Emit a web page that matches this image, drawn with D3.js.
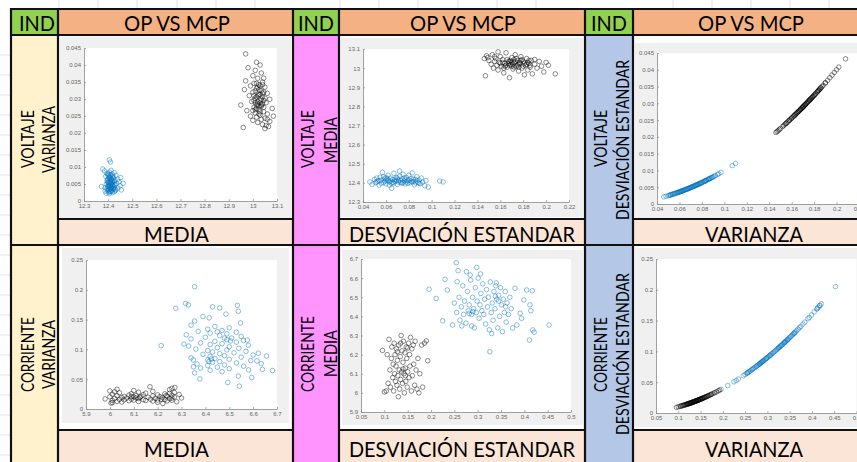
<!DOCTYPE html>
<html><head><meta charset="utf-8">
<script src="https://cdn.jsdelivr.net/npm/d3@7/dist/d3.min.js"></script>
<style>html,body{margin:0;padding:0;background:#fff;overflow:hidden}</style>
</head><body>
<svg id="c" width="857" height="462"></svg>
<script>
// ---------- DATA ----------
const voltBlueStd=[0.046,0.048,0.050,0.051,0.052,0.053,0.054,0.055,0.056,0.057,0.058,0.059,0.060,0.061,0.062,0.063,0.064,0.065,0.066,0.067,0.068,0.069,0.070,0.071,0.072,0.073,0.074,0.075,0.076,0.077,0.078,0.079,0.080,0.081,0.082,0.083,0.084,0.085,0.086,0.087,0.088,0.089,0.090,0.091,0.092,0.094,0.095,0.097,0.107,0.110,0.058,0.063,0.066,0.070,0.074,0.078,0.082,0.086,0.054,0.060,0.065,0.072,
  0.052,0.056,0.059,0.061,0.064,0.067,0.068,0.071,0.073,0.075,0.076,0.079,0.080,0.083,0.084,0.087,0.089,0.062,0.069,0.077];
const voltBlueMean=[12.405,12.392,12.418,12.401,12.425,12.410,12.388,12.430,12.415,12.455,12.402,12.420,12.395,12.412,12.440,12.405,12.425,12.398,12.418,12.450,12.408,12.428,12.392,12.415,12.435,12.402,12.420,12.445,12.410,12.395,12.428,12.412,12.440,12.400,12.422,12.452,12.408,12.390,12.418,12.432,12.402,12.415,12.395,12.425,12.405,12.385,12.412,12.378,12.410,12.405,12.432,12.388,12.403,12.425,12.398,12.405,12.410,12.400,12.412,12.428,12.372,12.462,
  12.405,12.398,12.408,12.422,12.410,12.400,12.418,12.405,12.412,12.402,12.425,12.398,12.415,12.405,12.420,12.410,12.398,12.415,12.412,12.418];
const voltBlueVar=[0.00212,0.00230,0.00250,0.00260,0.00270,0.00281,0.00292,0.00303,0.00314,0.00325,0.00336,0.00348,0.00360,0.00372,0.00384,0.00397,0.00410,0.00423,0.00436,0.00449,0.00462,0.00476,0.00490,0.00504,0.00518,0.00533,0.00548,0.00563,0.00578,0.00593,0.00608,0.00624,0.00640,0.00656,0.00672,0.00689,0.00706,0.00723,0.00740,0.00757,0.00774,0.00792,0.00810,0.00828,0.00846,0.00884,0.00903,0.00941,0.01145,0.01210,0.00336,0.00397,0.00436,0.00490,0.00548,0.00608,0.00672,0.00740,0.00292,0.00360,0.00423,0.00518,
  0.00270,0.00314,0.00348,0.00372,0.00410,0.00449,0.00462,0.00504,0.00533,0.00563,0.00578,0.00624,0.00640,0.00689,0.00706,0.00757,0.00792,0.00384,0.00476,0.00593];

const voltBlackStd=[0.147,0.148,0.149,0.150,0.152,0.153,0.154,0.155,0.156,0.157,0.158,0.159,0.160,0.161,0.162,0.163,0.164,0.165,0.166,0.167,0.168,0.169,0.170,0.171,0.172,0.173,0.174,0.175,0.176,0.177,0.178,0.179,0.180,0.181,0.182,0.183,0.184,0.185,0.186,0.187,0.188,0.190,0.192,0.194,0.196,0.198,0.200,0.202,0.208,0.166,0.168,0.170,0.172,0.174,0.160,0.163,0.176,0.178,0.180,0.184,0.158,0.146,
  0.162,0.165,0.167,0.169,0.171,0.173,0.175,0.177,0.179,0.181,0.170,0.168,0.172,0.164,0.176,0.183,0.185,0.186,0.155,0.190];
const voltBlackMean=[12.960,13.065,13.055,13.040,13.020,13.070,13.000,13.035,13.050,13.015,12.990,13.030,13.060,13.010,13.045,12.975,13.025,13.080,13.005,13.035,12.950,13.020,13.055,12.995,13.030,13.070,13.010,13.040,12.985,13.025,13.060,13.000,13.035,12.965,13.015,13.050,12.990,13.025,13.005,13.040,12.970,13.020,13.000,13.035,13.010,12.980,13.030,13.015,12.970,13.045,13.015,13.030,13.005,13.050,13.025,13.000,13.020,13.040,13.010,13.030,13.085,13.050,
  13.030,13.015,13.025,13.040,13.020,13.035,13.015,13.030,13.045,13.025,13.010,13.035,13.045,13.010,13.005,13.020,13.040,13.015,13.060,13.045];
const voltBlackVar=[0.02161,0.02190,0.02220,0.02250,0.02310,0.02341,0.02372,0.02403,0.02434,0.02465,0.02496,0.02528,0.02560,0.02592,0.02624,0.02657,0.02690,0.02723,0.02756,0.02789,0.02822,0.02856,0.02890,0.02924,0.02958,0.02993,0.03028,0.03063,0.03098,0.03133,0.03168,0.03204,0.03240,0.03276,0.03312,0.03349,0.03386,0.03423,0.03460,0.03497,0.03534,0.03610,0.03686,0.03764,0.03842,0.03920,0.04000,0.04080,0.04326,0.02756,0.02822,0.02890,0.02958,0.03028,0.02560,0.02657,0.03098,0.03168,0.03240,0.03386,0.02496,0.02132,
  0.02624,0.02723,0.02789,0.02856,0.02924,0.02993,0.03063,0.03133,0.03204,0.03276,0.02890,0.02822,0.02958,0.02690,0.03098,0.03349,0.03423,0.03460,0.02403,0.03610];

const currBlackStd=[0.096,0.100,0.104,0.106,0.108,0.110,0.112,0.113,0.115,0.116,0.118,0.119,0.120,0.121,0.122,0.123,0.124,0.125,0.126,0.127,0.128,0.129,0.130,0.131,0.132,0.133,0.134,0.135,0.136,0.137,0.138,0.139,0.140,0.141,0.142,0.143,0.144,0.145,0.146,0.147,0.148,0.149,0.150,0.152,0.153,0.154,0.155,0.156,0.158,0.159,0.160,0.162,0.163,0.165,0.166,0.168,0.170,0.172,0.174,0.176,0.180,0.186,0.190,0.193,0.182,0.128,0.140,0.150,0.135,0.145];
const currBlackMean=[6.222,6.005,6.010,6.200,6.050,6.280,6.120,6.030,6.180,6.240,6.080,6.150,6.010,6.260,6.100,6.200,6.060,6.140,6.230,6.040,6.170,6.090,5.980,6.250,6.120,6.020,6.190,6.070,6.300,6.110,6.220,6.050,6.160,6.270,6.100,6.000,6.210,6.130,6.060,6.240,6.180,6.030,6.110,6.260,6.080,6.200,6.140,6.290,6.010,6.230,6.090,6.250,6.150,6.040,6.270,6.120,6.020,6.180,6.000,6.100,6.250,6.260,6.272,6.168,6.030,6.215,6.125,6.235,6.260,6.090];
const currBlackVar=[0.00922,0.01000,0.01082,0.01124,0.01166,0.01210,0.01254,0.01277,0.01323,0.01346,0.01392,0.01416,0.01440,0.01464,0.01488,0.01513,0.01538,0.01563,0.01588,0.01613,0.01638,0.01664,0.01690,0.01716,0.01742,0.01769,0.01796,0.01823,0.01850,0.01877,0.01904,0.01932,0.01960,0.01988,0.02016,0.02045,0.02074,0.02103,0.02132,0.02161,0.02190,0.02220,0.02250,0.02310,0.02341,0.02372,0.02403,0.02434,0.02496,0.02528,0.02560,0.02624,0.02657,0.02723,0.02756,0.02822,0.02890,0.02958,0.03028,0.03098,0.03240,0.03460,0.03610,0.03725,0.03312,0.01638,0.01960,0.02250,0.01823,0.02103];

const currBlueStd=[0.254,0.298,0.258,0.276,0.284,0.306,0.230,0.256,0.196,0.211,0.225,0.235,0.246,0.266,0.287,0.326,0.405,0.417,0.411,0.418,0.421,0.399,0.412,0.414,0.391,0.380,0.394,0.384,0.453,0.250,0.255,0.260,0.262,0.265,0.268,0.270,0.272,0.275,0.278,0.280,0.282,0.285,0.287,0.289,0.291,0.293,0.295,0.297,0.299,0.301,0.303,0.305,0.307,0.309,0.311,0.313,0.315,0.317,0.319,0.321,0.323,0.325,0.327,0.329,0.331,0.333,0.335,0.337,0.339,0.341,0.343,0.345,0.347,0.349,0.351,0.353,0.355,0.357,0.359,0.361,0.363,0.366,0.369,0.372,0.375,0.340,0.345,0.338,0.282,0.290,0.330,0.360];
const currBlueMean=[6.681,6.656,6.639,6.634,6.616,6.622,6.594,6.581,6.542,6.494,6.377,6.538,6.355,6.350,6.350,6.215,6.538,6.534,6.276,6.329,6.317,6.486,6.460,6.430,6.416,6.547,6.390,6.355,6.355,6.470,6.420,6.500,6.380,6.450,6.560,6.410,6.480,6.365,6.530,6.430,6.460,6.590,6.410,6.500,6.440,6.340,6.550,6.420,6.480,6.600,6.390,6.460,6.520,6.430,6.570,6.410,6.490,6.360,6.540,6.450,6.500,6.330,6.580,6.420,6.470,6.380,6.530,6.440,6.560,6.490,6.340,6.510,6.400,6.550,6.460,6.320,6.490,6.420,6.530,6.370,6.470,6.410,6.500,6.440,6.340,6.575,6.480,6.505,6.415,6.425,6.310,6.450];
const currBlueVar=[0.0645,0.0888,0.0666,0.0762,0.0807,0.0936,0.0529,0.0655,0.0384,0.0445,0.0506,0.0552,0.0605,0.0708,0.0824,0.1063,0.1640,0.1739,0.1689,0.1747,0.1772,0.1592,0.1697,0.1714,0.1529,0.1444,0.1552,0.1475,0.2052,0.0625,0.0650,0.0676,0.0686,0.0702,0.0718,0.0729,0.0740,0.0756,0.0773,0.0784,0.0795,0.0812,0.0824,0.0835,0.0847,0.0858,0.0870,0.0882,0.0894,0.0906,0.0918,0.0930,0.0942,0.0955,0.0967,0.0980,0.0992,0.1005,0.1018,0.1030,0.1043,0.1056,0.1069,0.1082,0.1096,0.1109,0.1122,0.1136,0.1149,0.1163,0.1176,0.1190,0.1204,0.1218,0.1232,0.1246,0.1260,0.1274,0.1289,0.1303,0.1318,0.1340,0.1362,0.1384,0.1406,0.1156,0.1190,0.1142,0.0795,0.0841,0.1089,0.1296];

// tick values and labels
const voltMeanTicks=[12.3,12.4,12.5,12.6,12.7,12.8,12.9,13,13.1];
const voltMeanLabels=["12.3","12.4","12.5","12.6","12.7","12.8","12.9","13","13.1"];
const voltVarTicks=[0,0.005,0.01,0.015,0.02,0.025,0.03,0.035,0.04,0.045];
const voltVarLabels=["0","0.005","0.01","0.015","0.02","0.025","0.03","0.035","0.04","0.045"];
const voltStdTicks=[0.04,0.06,0.08,0.1,0.12,0.14,0.16,0.18,0.2,0.22];
const voltStdLabels=["0.04","0.06","0.08","0.1","0.12","0.14","0.16","0.18","0.2","0.22"];
const currMeanTicks=[5.9,6,6.1,6.2,6.3,6.4,6.5,6.6,6.7];
const currMeanLabels=["5.9","6","6.1","6.2","6.3","6.4","6.5","6.6","6.7"];
const currVarTicks=[0,0.05,0.1,0.15,0.2,0.25];
const currVarLabels=["0","0.05","0.1","0.15","0.2","0.25"];
const currStdTicks=[0.05,0.1,0.15,0.2,0.25,0.3,0.35,0.4,0.45,0.5];
const currStdLabels=["0.05","0.1","0.15","0.2","0.25","0.3","0.35","0.4","0.45","0.5"];

// ---------- DRAWING ----------
const svg=d3.select("#c");
const FONT="Lato, 'Open Sans', sans-serif";
const C={green:"#92d050",orange:"#f4b183",peach:"#fbe5d6",yellow:"#fff2cc",pink:"#ff94ff",lblue:"#b4c7e7"};

// faint spreadsheet gridlines in the margins
const grid=svg.append("g").attr("stroke","#dcdcdc").attr("stroke-width",0.8);
[59,98,137,177,216,255,340,379,418,458,497,536,673,712,751,790,829].forEach(x=>grid.append("line").attr("x1",x).attr("x2",x).attr("y1",0).attr("y2",9));
for(let y=55;y<462;y+=20) grid.append("line").attr("x1",0).attr("x2",11).attr("y1",y).attr("y2",y);

function rect(x,y,w,h,f){svg.append("rect").attr("x",x).attr("y",y).attr("width",w).attr("height",h).attr("fill",f);}
// header row
rect(11,9,47,26,C.green);rect(58,9,235,26,C.orange);
rect(293,9,46,26,C.green);rect(339,9,246,26,C.orange);
rect(585,9,48,26,C.green);rect(633,9,250,26,C.orange);
// side columns
rect(11,35,47,430,C.yellow);rect(293,35,46,430,C.pink);rect(585,35,48,430,C.lblue);
// label rows
[[58,235],[339,246],[633,250]].forEach(([x,w])=>{rect(x,219,w,26,C.peach);rect(x,430,w,35,C.peach);});

function txt(s,cx,base,len,size,rot){
  const t=svg.append("text").text(s).attr("font-family",FONT).attr("font-size",size)
    .attr("fill","#000").attr("text-anchor","middle")
    .attr("textLength",len).attr("lengthAdjust","spacingAndGlyphs");
  if(rot){t.attr("transform",`translate(${cx},${base}) rotate(-90)`);}
  else t.attr("x",cx).attr("y",base);
  return t;
}
// headers
[[37,36],[316,36],[609,36]].forEach(([c,l])=>txt("IND",c,30.5,l,21));
[177,463,751].forEach(c=>txt("OP VS MCP",c,30.5,106,21));
// bottom labels
[241.5,456.5].forEach(b=>{txt("MEDIA",176.5,b,65,21);txt("DESVIACIÓN ESTANDAR",462,b,226,21);txt("VARIANZA",754,b,98,21);});
// rotated side labels: [text, baseline x, center y, length]
const side=[
  ["VOLTAJE",33.5,139,58],["VARIANZA",54.5,139.5,67],
  ["CORRIENTE",33.5,354.5,75],["VARIANZA",54.5,354.5,69],
  ["VOLTAJE",313.5,139,58],["MEDIA",336.5,140,46],
  ["CORRIENTE",313.5,354,76],["MEDIA",336.5,353.5,47],
  ["VOLTAJE",606.5,138.5,57],["DESVIACIÓN ESTANDAR",628.5,140,160],
  ["CORRIENTE",606.5,354.5,75],["DESVIACIÓN ESTANDAR",628.5,354,162]
];
side.forEach(([s,bx,cy,l])=>txt(s,bx,cy,l,17,true));

// borders
const bd=svg.append("g").attr("stroke","#111").attr("stroke-width",2.2);
[9,35,245].forEach(y=>bd.append("line").attr("x1",10).attr("x2",880).attr("y1",y).attr("y2",y));
[[58,293],[339,585],[633,880]].forEach(([a,b])=>[219,430].forEach(y=>bd.append("line").attr("x1",a).attr("x2",b).attr("y1",y).attr("y2",y)));
[11,58,293,339,585,633].forEach(x=>bd.append("line").attr("x1",x).attr("x2",x).attr("y1",8).attr("y2",470));

// charts
const BLUE="#0072bd",BLACK="#000";
const charts=[
 {panel:[60,36.5,232,181.5],ax:[84,277,48,201],xd:[12.3,13.1],yd:[0,0.045],xt:voltMeanTicks,xl:voltMeanLabels,yt:voltVarTicks,yl:voltVarLabels,
  s:[[voltBlueMean,voltBlueVar,BLUE],[voltBlackMean,voltBlackVar,BLACK]]},
 {panel:[341,38,242,179],ax:[363,569,49,202],xd:[0.04,0.22],yd:[12.3,13.1],xt:voltStdTicks,xl:voltStdLabels,yt:voltMeanTicks,yl:voltMeanLabels,
  s:[[voltBlueStd,voltBlueMean,BLUE],[voltBlackStd,voltBlackMean,BLACK]]},
 {panel:[635,43,250,175],ax:[657,859,53,204],xd:[0.04,0.22],yd:[0,0.045],xt:voltStdTicks,xl:voltStdLabels,yt:voltVarTicks,yl:voltVarLabels,
  s:[[voltBlueStd,voltBlueVar,BLUE],[voltBlackStd,voltBlackVar,BLACK]]},
 {panel:[62,248,227,175],ax:[86,277,260,409],xd:[5.9,6.7],yd:[0,0.25],xt:currMeanTicks,xl:currMeanLabels,yt:currVarTicks,yl:currVarLabels,
  s:[[currBlueMean,currBlueVar,BLUE],[currBlackMean,currBlackVar,BLACK]]},
 {panel:[342,250,241,175],ax:[361,571,259,412],xd:[0.05,0.5],yd:[5.9,6.7],xt:currStdTicks,xl:currStdLabels,yt:currMeanTicks,yl:currMeanLabels,
  s:[[currBlueStd,currBlueMean,BLUE],[currBlackStd,currBlackMean,BLACK]]},
 {panel:[635,248,250,179],ax:[656,856.5,259,413],xd:[0.05,0.5],yd:[0,0.25],xt:currStdTicks,xl:currStdLabels,yt:currVarTicks,yl:currVarLabels,
  s:[[currBlueStd,currBlueVar,BLUE],[currBlackStd,currBlackVar,BLACK]]}
];
charts.forEach(c=>{
  const g=svg.append("g");
  const [px,py,pw,ph]=c.panel, [x0,x1,y0,y1]=c.ax;
  g.append("rect").attr("x",px).attr("y",py).attr("width",pw).attr("height",ph).attr("fill","#f0f0f0");
  g.append("rect").attr("x",x0).attr("y",y0).attr("width",x1-x0).attr("height",y1-y0).attr("fill","#fff");
  const x=d3.scaleLinear().domain(c.xd).range([x0,x1]);
  const y=d3.scaleLinear().domain(c.yd).range([y1,y0]);
  const ax=g.append("g").attr("transform",`translate(0,${y1})`)
    .call(d3.axisBottom(x).tickValues(c.xt).tickFormat((d,i)=>c.xl[i]).tickSizeInner(-2).tickSizeOuter(0).tickPadding(3));
  const ay=g.append("g").attr("transform",`translate(${x0},0)`)
    .call(d3.axisLeft(y).tickValues(c.yt).tickFormat((d,i)=>c.yl[i]).tickSizeInner(-2).tickSizeOuter(0).tickPadding(3));
  [ax,ay].forEach(a=>{
    a.select(".domain").attr("stroke","#8a8a8a").attr("stroke-width",0.8);
    a.selectAll(".tick line").attr("stroke","#8a8a8a").attr("stroke-width",0.7);
    a.selectAll("text").attr("font-family","'Liberation Sans', Arial, sans-serif").attr("font-size",6).attr("fill","#666");
  });
  c.s.forEach(([xs,ys,col])=>{
    g.append("g").selectAll("circle").data(xs.map((v,i)=>[v,ys[i]])).join("circle")
      .attr("cx",d=>x(d[0])).attr("cy",d=>y(d[1])).attr("r",2.3)
      .attr("fill","none").attr("stroke",col).attr("stroke-width",0.9).attr("stroke-opacity",0.5);
  });
});
</script>
</body></html>
